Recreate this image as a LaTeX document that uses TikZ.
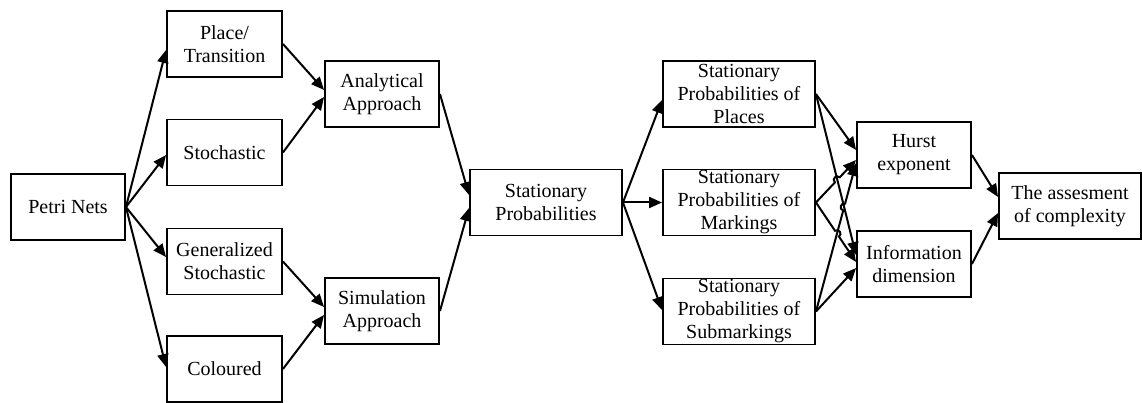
\documentclass[tikz,border=0pt]{standalone}
\usepackage{fontspec}
\setmainfont{Liberation Serif}
\usetikzlibrary{arrows.meta,calc}
\tikzset{
  box/.style={draw, line width=1.9pt, rectangle, inner sep=0pt, align=center,
    minimum height=66pt, font=\fontsize{20}{23}\selectfont},
  boxa/.style={box, minimum width=115pt},
  boxb/.style={box, minimum width=152pt},
  boxc/.style={box, minimum width=142pt},
  arr/.style={line width=2pt, -{Triangle[length=13pt,width=11pt]}},
  hop/.style={bend left=90, looseness=1.7}
}
\begin{document}
\begin{tikzpicture}[x=1pt,y=-1pt]
\useasboundingbox (0,0) rectangle (1142,403);
% nodes
\node[boxa, minimum width=114pt] (pn) at (68,207) {Petri Nets};
\node[boxa] (pt) at (224.5,44) {Place/\\Transition};
\node[boxa] (st) at (224.5,152.5) {Stochastic};
\node[boxa] (gs) at (224.5,261.5) {Generalized\\Stochastic};
\node[boxa] (co) at (224.5,369) {Coloured};
\node[boxa, minimum width=114pt] (an) at (382,94) {Analytical\\Approach};
\node[boxa, minimum width=114pt] (si) at (382,311) {Simulation\\Approach};
\node[boxb] (sp) at (546,202.5) {Stationary\\Probabilities};
\node[boxb] (pl) at (739,94) {Stationary\\Probabilities of\\Places};
\node[boxb] (mk) at (739,202.5) {Stationary\\Probabilities of\\Markings};
\node[boxb] (sm) at (739,311.5) {Stationary\\Probabilities of\\Submarkings};
\node[boxa, minimum width=114pt] (hu) at (914,155) {Hurst\\exponent};
\node[boxa, minimum width=114pt] (in) at (914,264) {Information\\dimension};
\node[boxc] (as) at (1070,206) {The assesment\\of complexity};
% arrows column 1
\draw[arr] (pn.east) -- ($(pt.west)+(0,6)$);
\draw[arr] (pn.east) -- ($(st.west)+(0,2.5)$);
\draw[arr] (pn.east) -- ($(gs.west)+(0,-4.5)$);
\draw[arr] (pn.east) -- ($(co.west)+(0,-2)$);
% column 2
\draw[arr] (pt.east) -- ($(an.west)+(0,-4)$);
\draw[arr] (st.east) -- ($(an.west)+(0,3)$);
\draw[arr] (gs.east) -- ($(si.west)+(0,-4)$);
\draw[arr] (co.east) -- ($(si.west)+(0,4)$);
% column 3
\draw[arr] (an.east) -- ($(sp.west)+(0,-7.5)$);
\draw[arr] (si.east) -- ($(sp.west)+(0,5.5)$);
% column 4
\draw[arr] (sp.east) -- ($(pl.west)+(0,6)$);
\draw[arr] (sp.east) -- (mk.west);
\draw[arr] (sp.east) -- ($(sm.west)+(0,-1.5)$);
% column 5
\coordinate (hu1) at ($(hu.west)+(0,-5)$);
\coordinate (hu2) at ($(hu.west)+(0,5)$);
\coordinate (hu3) at ($(hu.west)+(0,8)$);
\coordinate (in1) at ($(in.west)+(0,-9)$);
\coordinate (in2) at ($(in.west)+(0,-2)$);
\coordinate (in3) at ($(in.west)+(0,4)$);
\draw[arr] (pl.east) -- (hu1);
\draw[arr] (pl.east) -- (in1);
\coordinate (x1) at ($(mk.east)!0.533!(hu2)$);
\draw[arr] (mk.east) -- ($(x1)!-3.5pt!(hu2)$) to[hop] ($(x1)!3.5pt!(hu2)$) -- (hu2);
\coordinate (x2) at ($(sm.east)!0.703!(hu3)$);
\draw[arr] (sm.east) -- ($(x2)!-3.5pt!(hu3)$) to[hop] ($(x2)!3.5pt!(hu3)$) -- (hu3);
\coordinate (x3) at ($(mk.east)!0.524!(in2)$);
\draw[arr] (mk.east) -- ($(x3)!-3.5pt!(in2)$) to[hop] ($(x3)!3.5pt!(in2)$) -- (in2);
\draw[arr] (sm.east) -- (in3);
% column 6
\draw[arr] (hu.east) -- ($(as.west)+(0,-9)$);
\draw[arr] (in.east) -- ($(as.west)+(0,7)$);
\end{tikzpicture}
\end{document}
